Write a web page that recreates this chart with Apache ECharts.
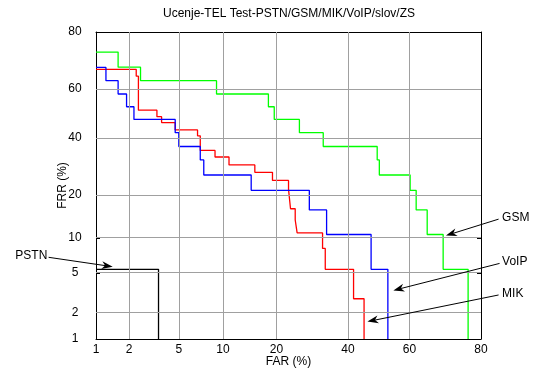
<!DOCTYPE html>
<html><head><meta charset="utf-8">
<script src="https://cdn.jsdelivr.net/npm/echarts@6/dist/echarts.min.js"></script>
<style>html,body{margin:0;padding:0;background:#fff}#c{width:535px;height:369px}</style>
</head><body><div id="c"></div>
<script>
// ---- data (percent) ----
const xTickLabels = [1, 2, 5, 10, 20, 40, 60, 80];
const yTickLabels = [1, 2, 5, 10, 20, 40, 60, 80];
const gridLinesX = [2, 5, 10, 20, 40, 60];
const gridLinesY = [2, 5, 10, 20, 40, 60];

// step curves: FAR where each FRR level ends, and the FRR levels
const gsmFar = [1.6, 2.5, 9.1, 18.2, 19.5, 25.7, 32.4, 49.5, 50.2, 60.2, 62.1, 65.5, 70.2, 76.9];
const gsmFrr = [73.7, 68.4, 63.3, 58.0, 52.8, 47.6, 42.2, 36.7, 31.6, 26.3, 21.4, 16.0, 10.6, 5.4];

const mikFar = [2.3, 2.4, 3.4, 3.7, 4.7, 6.8, 7.1, 8.9, 10.9, 15.4, 19.1, 22.9, 23.4, 24.6, 25.1, 32.2, 33.0, 41.8, 45.2];
const mikFrr = [67.6, 65.0, 51.4, 48.7, 46.3, 43.3, 40.9, 35.2, 32.7, 29.8, 27.2, 24.5, 21.7, 16.3, 13.6, 10.9, 8.2, 5.4, 2.8];

const voipFar = [1.24, 1.6, 1.9, 2.2, 4.7, 5.0, 7.1, 7.5, 14.7, 28.4, 33.4, 47.5, 53.0];
const voipFrr = [68.3, 63.3, 58.0, 52.8, 47.6, 42.2, 36.7, 31.6, 26.3, 21.4, 16.0, 10.6, 5.4];

const pstnFar = [3.5];
const pstnFrr = [5.4];

// annotations: label, text anchor, arrow tail, arrow tip (FAR %, FRR %)
const annLabels = ['GSM', 'VoIP', 'MIK', 'PSTN'];
const annText = [[84.5, 14.2], [84.5, 6.3], [84.5, 3.13], [0.32, 7.1]];
const annTail = [[83.8, 13.8], [84.0, 6.1], [83.8, 3.06], [0.33, 6.9]];
const annTip  = [[71.0, 10.4], [54.8, 3.4], [46.3, 1.59], [1.43, 5.7]];

// ---- normal-deviate (probit) scale ----
function probit(p) {
  const a = [-3.969683028665376e+01, 2.209460984245205e+02, -2.759285104469687e+02, 1.383577518672690e+02, -3.066479806614716e+01, 2.506628277459239e+00];
  const b = [-5.447609879822406e+01, 1.615858368580409e+02, -1.556989798598866e+02, 6.680131188771972e+01, -1.328068155288572e+01];
  const c = [-7.784894002430293e-03, -3.223964580411365e-01, -2.400758277161838e+00, -2.549732539343734e+00, 4.374664141464968e+00, 2.938163982698783e+00];
  const d = [7.784695709041462e-03, 3.224671290700398e-01, 2.445134137142996e+00, 3.754408661907416e+00];
  const pl = 0.02425, ph = 1 - pl;
  let q, r;
  if (p < pl) {
    q = Math.sqrt(-2 * Math.log(p));
    return (((((c[0]*q+c[1])*q+c[2])*q+c[3])*q+c[4])*q+c[5]) / ((((d[0]*q+d[1])*q+d[2])*q+d[3])*q+1);
  } else if (p <= ph) {
    q = p - 0.5; r = q*q;
    return (((((a[0]*r+a[1])*r+a[2])*r+a[3])*r+a[4])*r+a[5])*q / (((((b[0]*r+b[1])*r+b[2])*r+b[3])*r+b[4])*r+1);
  } else {
    q = Math.sqrt(-2 * Math.log(1 - p));
    return -(((((c[0]*q+c[1])*q+c[2])*q+c[3])*q+c[4])*q+c[5]) / ((((d[0]*q+d[1])*q+d[2])*q+d[3])*q+1);
  }
}
const pr = v => probit(v / 100);
const xMin = pr(xTickLabels[0]), xMax = pr(xTickLabels[xTickLabels.length - 1]);
const yMin = pr(yTickLabels[0]), yMax = pr(yTickLabels[yTickLabels.length - 1]);

function stepPath(far, frr) {
  const pts = [[xMin, pr(frr[0])]];
  for (let i = 0; i < far.length; i++) {
    pts.push([pr(far[i]), pr(frr[i])]);
    pts.push([pr(far[i]), i + 1 < frr.length ? pr(frr[i + 1]) : yMin]);
  }
  return pts;
}
function labelFor(list) {
  return v => {
    let best = list[0], bd = Infinity;
    list.forEach(t => { const dd = Math.abs(pr(t) - v); if (dd < bd) { bd = dd; best = t; } });
    return String(best);
  };
}

const FONT = "'Liberation Sans', Arial, sans-serif";
const chart = echarts.init(document.getElementById('c'), null, { renderer: 'canvas' });

function curve(name, far, frr, color) {
  return {
    name, type: 'line', data: stepPath(far, frr), showSymbol: false, symbol: 'none',
    lineStyle: { color, width: 1.3 }, z: 3, animation: false, clip: true
  };
}
const tickCfg = vals => ({ show: true, inside: true, length: 4, customValues: vals.map(pr), lineStyle: { color: '#000', width: 1 } });
const lineCfg = { show: true, onZero: false, lineStyle: { color: '#000', width: 1 } };

const option = {
  animation: false,
  backgroundColor: '#fff',
  title: {
    text: 'Ucenje-TEL Test-PSTN/GSM/MIK/VoIP/slov/ZS',
    left: 289, top: 8, padding: 0, textAlign: 'center',
    textStyle: { fontSize: 12, fontWeight: 'normal', color: '#000', fontFamily: FONT }
  },
  grid: { left: 96, right: 54, top: 32, bottom: 30, outerBoundsMode: 'none', containLabel: false },
  xAxis: [{
    type: 'value', min: xMin, max: xMax, position: 'bottom',
    name: 'FAR (%)', nameLocation: 'middle', nameGap: 17, nameMoveOverlap: false,
    nameTextStyle: { fontSize: 12, color: '#000', fontFamily: FONT },
    axisLine: lineCfg,
    axisTick: tickCfg(xTickLabels),
    axisLabel: { customValues: xTickLabels.map(pr), formatter: labelFor(xTickLabels), fontSize: 12, color: '#000', fontFamily: FONT, margin: 5 },
    splitLine: { show: false }
  }, {
    type: 'value', min: xMin, max: xMax, position: 'top',
    axisLine: lineCfg,
    axisTick: tickCfg(xTickLabels),
    axisLabel: { show: false }, splitLine: { show: false }
  }],
  yAxis: [{
    type: 'value', min: yMin, max: yMax, position: 'left',
    name: 'FRR (%)', nameLocation: 'middle', nameGap: 27, nameRotate: 90, nameMoveOverlap: false,
    nameTextStyle: { fontSize: 12, color: '#000', fontFamily: FONT },
    axisLine: lineCfg,
    axisTick: tickCfg(yTickLabels),
    axisLabel: { customValues: yTickLabels.map(pr), formatter: labelFor(yTickLabels), fontSize: 12, color: '#000', fontFamily: FONT, margin: 21, align: 'center' },
    splitLine: { show: false }
  }, {
    type: 'value', min: yMin, max: yMax, position: 'right',
    axisLine: lineCfg,
    axisTick: tickCfg(yTickLabels),
    axisLabel: { show: false }, splitLine: { show: false }
  }],
  series: [
    {
      name: 'grid', type: 'line', data: [], z: 1, silent: true,
      markLine: {
        silent: true, symbol: ['none', 'none'], animation: false,
        label: { show: false },
        lineStyle: { color: '#a0a0a0', width: 1, type: 'solid' },
        emphasis: { disabled: true },
        data: gridLinesX.map(v => ({ xAxis: pr(v) })).concat(gridLinesY.map(v => ({ yAxis: pr(v) })))
      }
    },
    curve('PSTN', pstnFar, pstnFrr, '#000000'),
    curve('GSM', gsmFar, gsmFrr, '#00ff00'),
    curve('MIK', mikFar, mikFrr, '#ff0000'),
    curve('VoIP', voipFar, voipFrr, '#0000ff')
  ]
};
chart.setOption(option);

// annotations (arrows + labels), positioned through the grid's coordinate system
const toPx = p => chart.convertToPixel({ gridIndex: 0 }, [pr(p[0]), pr(p[1])]);
const gfx = [];
annLabels.forEach((lab, i) => {
  const t = toPx(annText[i]), a = toPx(annTail[i]), b = toPx(annTip[i]);
  const dx = b[0] - a[0], dy = b[1] - a[1], L = Math.hypot(dx, dy);
  const ux = dx / L, uy = dy / L, px = -uy, py = ux;
  const hl = 11, hw = 4;
  const back = [b[0] - ux * hl, b[1] - uy * hl];
  const notch = [b[0] - ux * hl * 0.7, b[1] - uy * hl * 0.7];
  gfx.push({ type: 'line', shape: { x1: a[0], y1: a[1], x2: notch[0], y2: notch[1] }, style: { stroke: '#000', lineWidth: 1 }, z: 10 });
  gfx.push({ type: 'polygon', shape: { points: [b, [back[0] + px * hw, back[1] + py * hw], notch, [back[0] - px * hw, back[1] - py * hw]] }, style: { fill: '#000' }, z: 10 });
  const isLeft = annText[i][0] < 1;
  gfx.push({ type: 'text', x: t[0], y: t[1], style: { text: lab, fill: '#000', font: '12px ' + FONT, align: isLeft ? 'right' : 'left', verticalAlign: 'middle' }, z: 10 });
});
chart.setOption({ graphic: gfx });
</script>
</body></html>
